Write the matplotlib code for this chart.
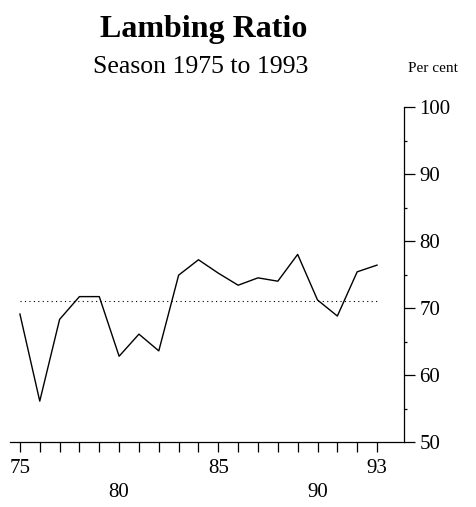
import matplotlib
matplotlib.use("Agg")
import matplotlib.pyplot as plt
from matplotlib.ticker import MultipleLocator

# lambing ratio per season, per cent
years = list(range(1975, 1994))
ratio = [69.1, 56.1, 68.3, 71.7, 71.7, 62.8, 66.1, 63.6, 74.9, 77.2,
         75.2, 73.4, 74.5, 74.0, 78.0, 71.2, 68.8, 75.4, 76.4]
average = 71.0

tick_labels = {1975: "75", 1980: "\n80", 1985: "85", 1990: "\n90", 1993: "93"}
y_ticks = [50, 60, 70, 80, 90, 100]

plt.rcParams['font.family'] = ['Liberation Serif', 'DejaVu Serif']

fig = plt.figure(figsize=(4.76, 5.07), dpi=100)
ax = fig.add_axes([10 / 476, 1 - 442 / 507, 394 / 476, 335 / 507])

ax.plot(years, ratio, color="black", lw=1.0)
ax.plot([years[0], years[-1]], [average, average], color="black", lw=0.8,
        linestyle=(0, (1, 3)))

ax.set_xlim(1974.5, 1994.36)
ax.set_ylim(50, 100)

for side in ["top", "left"]:
    ax.spines[side].set_visible(False)
ax.spines["right"].set_linewidth(0.9)
ax.spines["bottom"].set_linewidth(0.9)

ax.yaxis.tick_right()
ax.set_yticks(y_ticks)
ax.set_yticklabels([str(v) for v in y_ticks])
ax.yaxis.set_minor_locator(MultipleLocator(5))
ax.tick_params(axis="y", which="major", direction="out", length=8, width=0.9,
               pad=3, labelsize=15)
ax.tick_params(axis="y", which="minor", direction="out", length=2, width=0.9)

ax.set_xticks(years)
ax.set_xticklabels([tick_labels.get(y, "") for y in years], linespacing=1.4)
ax.tick_params(axis="x", which="major", direction="out", length=7, width=0.9,
               pad=5, labelsize=15)

fig.text(0.4275, 1 - 37 / 507, "Lambing Ratio", ha="center", va="baseline",
         fontsize=23, fontweight="bold")
fig.text(0.421, 1 - 73 / 507, "Season 1975 to 1993", ha="center", va="baseline",
         fontsize=18.5)
fig.text(408 / 476, 1 - 72 / 507, "Per cent", ha="left", va="baseline",
         fontsize=11)

fig.savefig("out.png", dpi=100)
